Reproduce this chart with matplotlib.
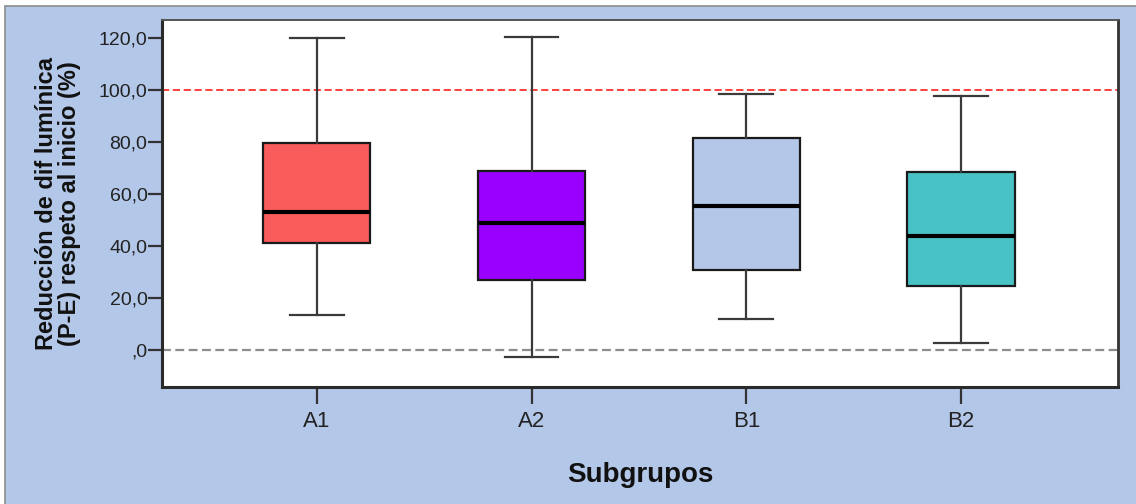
import matplotlib
matplotlib.use("Agg")
import matplotlib.pyplot as plt
from matplotlib.patches import Rectangle

plt.rcParams['font.family'] = ['Liberation Sans', 'DejaVu Sans']

# box summaries per subgroup (percent)
groups = ['A1', 'A2', 'B1', 'B2']
whislo = [13.5, -2.7, 11.9, 2.6]
q1 = [41.4, 26.9, 30.8, 24.6]
med = [53.1, 49.0, 55.4, 43.8]
q3 = [79.6, 69.0, 81.5, 68.6]
whishi = [120.0, 120.6, 98.7, 97.9]
colors = ['#FA5B5B', '#9900FF', '#B3C7E8', '#48C2C5']

yticks = [0, 20, 40, 60, 80, 100, 120]
ytick_labels = [',0', '20,0', '40,0', '60,0', '80,0', '100,0', '120,0']

bg = '#B3C7E8'

fig = plt.figure(figsize=(11.36, 5.04), dpi=100)
fig.patch.set_facecolor('white')
# blue panel with thin grey frame, kept behind the axes
panel = Rectangle((5 / 1136, -0.01), 1.01 - 5 / 1136, 1.01 - 6 / 504,
                  transform=fig.transFigure, facecolor=bg,
                  edgecolor='#8C8C8C', linewidth=1.2, zorder=-10)
fig.add_artist(panel)

ax = fig.add_axes([162 / 1136, 1 - 387 / 504, (1118 - 162) / 1136, (387 - 20) / 504])
ax.set_zorder(1)
ax.set_facecolor('white')

stats = []
for i, g in enumerate(groups):
    stats.append({'label': g, 'whislo': whislo[i], 'q1': q1[i], 'med': med[i],
                  'q3': q3[i], 'whishi': whishi[i], 'fliers': []})

bp = ax.bxp(stats, positions=[1, 2, 3, 4], widths=0.5, patch_artist=True,
            showfliers=False,
            boxprops=dict(edgecolor='#1a1a1a', linewidth=1.6),
            medianprops=dict(color='black', linewidth=3),
            whiskerprops=dict(color='#3a3a3a', linewidth=1.6),
            capprops=dict(color='#3a3a3a', linewidth=1.6),
            capwidths=0.25)
for patch, c in zip(bp['boxes'], colors):
    patch.set_facecolor(c)

ax.axhline(100, color='#FF3030', linestyle=(0, (4, 2)), linewidth=1.3, zorder=1)
ax.axhline(0, color='#8C8C8C', linestyle=(0, (4, 2)), linewidth=1.6, zorder=1)

ax.set_xlim(0.28, 4.73)
ax.set_ylim(-14.2, 127.1)
ax.set_yticks(yticks)
ax.set_yticklabels(ytick_labels)
ax.set_xticks([1, 2, 3, 4])
ax.set_xticklabels(groups)

ax.tick_params(axis='y', length=10, width=1.6, color='#333333', labelsize=14,
               labelcolor='#222222', pad=0.5)
ax.tick_params(axis='x', length=12, width=1.6, color='#333333', labelsize=16,
               labelcolor='#222222', pad=5)

for side in ['left', 'bottom']:
    ax.spines[side].set_linewidth(2.2)
    ax.spines[side].set_color('#2a2a2a')
ax.spines['top'].set_linewidth(1.4)
ax.spines['top'].set_color('#555555')
ax.spines['right'].set_linewidth(2.0)
ax.spines['right'].set_color('#333333')

ax.set_ylabel('Reducción de dif lumínica\n(P-E) respeto al inicio (%)',
              fontsize=17, fontweight='bold', color='#111111', labelpad=13,
              linespacing=1.0)
ax.set_xlabel('Subgrupos', fontsize=20, fontweight='bold', color='#111111',
              labelpad=22)

fig.savefig('out.png', dpi=100, facecolor=fig.get_facecolor())
